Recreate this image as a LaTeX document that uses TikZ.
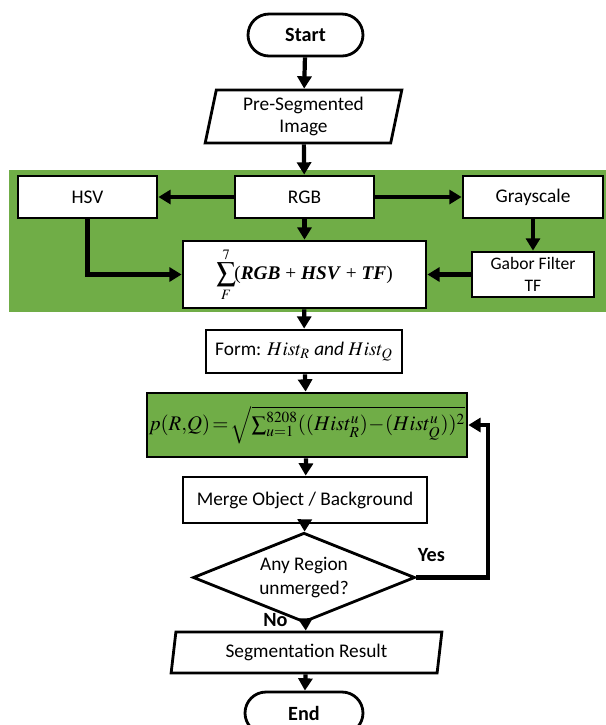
\documentclass[tikz,border=0pt]{standalone}
\usepackage{amsmath,amssymb}
\usepackage{mathptmx}
\usepackage{fontspec}
\setmainfont{Carlito}
\newfontfamily\formfont{Liberation Serif}
\usetikzlibrary{calc,shapes.geometric,arrows.meta}
\tikzset{>={Triangle[length=7pt,width=8pt]}}
\definecolor{panelgreen}{RGB}{112,173,71}

\begin{document}
\begin{tikzpicture}[x=0.02cm,y=-0.02cm,
    font=\fontsize{11}{13}\selectfont,
    box/.style={rectangle, draw=black, line width=1.6pt, fill=white, align=center, inner sep=1pt},
    term/.style={rectangle, rounded corners=0.42cm, draw=black, line width=1.6pt, fill=white, font=\fontsize{11.5}{14}\selectfont\bfseries},
    iobox/.style={trapezium, trapezium stretches=true, draw=black, line width=1.6pt, fill=white, align=center, inner sep=0pt},
    flow/.style={->, line width=2.4pt}]
    \useasboundingbox (0,0) rectangle (606,725);
			% green band behind the colour models
			\fill[panelgreen] (9,170) rectangle (606,312);

			\node[term, minimum width=2.3cm, minimum height=0.84cm] (start) at (305.5,35) {Start};
			\node[iobox, trapezium left angle=79, trapezium right angle=101, minimum width=3.94cm, minimum height=1.06cm] (preseg) at (303.5,116.5) {Pre-Segmented\\Image};
            \draw [flow] (start) -- (preseg);

			\node[box, minimum width=2.78cm, minimum height=0.84cm] (hsv) at (87.5,197) {HSV};
			\node[box, minimum width=2.78cm, minimum height=0.84cm] (rgb) at (304.5,197) {RGB};
			\node[box, minimum width=2.8cm, minimum height=0.84cm] (gray) at (533,197) {Grayscale};
            \draw [flow] (preseg) -- (rgb);
            \draw [flow] (rgb) -- (hsv);
            \draw [flow] (rgb) -- (gray);

			\node[box, minimum width=4.86cm, minimum height=1.34cm] (sum) at (304.5,274.5) {$\displaystyle\sum_{F}^{7}$\hspace{-1pt}{\formfont(\textbf{\textit{RGB}} + \textbf{\textit{HSV}} + \textbf{\textit{TF}})}};
			\node[box, minimum width=2.44cm, minimum height=0.9cm, font=\fontsize{10}{12.5}\selectfont] (gabor) at (533,274.5) {Gabor Filter\\TF};
            \draw [flow] (rgb) -- (sum);
            \draw [flow] (gray) -- (gabor);
            \draw [flow] (hsv.south) |- (sum.west);
            \draw [flow] (gabor) -- (sum);

			\node[box, minimum width=3.92cm, minimum height=0.86cm] (form) at (304,351.5) {Form: \textit{$Hist_R$ and $Hist_Q$}};
            \draw [flow] (sum) -- (form);

			\node[box, fill=panelgreen, minimum width=6.4cm, minimum height=1.28cm, inner sep=0pt, font=\fontsize{11.8}{14}\selectfont] (dist) at (307,425) {$p(R,\!Q)\!=\!\sqrt{\sum_{u=1}^{8208}((Hist_R^u)\!-\!(Hist_Q^u))^2}$};
            \draw [flow] (form) -- (dist);

			\node[box, minimum width=4.88cm, minimum height=0.92cm] (merge) at (305,500) {Merge Object / Background};
            \draw [flow] (dist) -- (merge);

			\node[diamond, draw=black, line width=1.6pt, fill=white, inner sep=0pt, minimum width=4.44cm, minimum height=1.3cm] (check) at (304,577.5) {\raisebox{-3pt}[0pt][0pt]{\begin{tabular}{@{}c@{}}Any Region\\[1pt]unmerged?\end{tabular}}};
            \draw [flow] (merge) -- (check);

			\node[iobox, trapezium left angle=80, trapezium right angle=100, minimum width=5.46cm, minimum height=0.82cm] (result) at (306.5,652.5) {Segmentation Result};
            \draw [flow] (check) -- (result);
			\node[font=\fontsize{11.5}{14}\selectfont\bfseries] at ($(result.north) + (-31,-11)$) {No};

            \draw [flow] (check.east) -- ++(72,0) |- (dist.east);
			\node[font=\fontsize{11.5}{14}\selectfont\bfseries] at ($(check.east) + (15,-22)$) {Yes};

			\node[term, minimum width=2.36cm, minimum height=0.84cm] (end) at (304,713) {End};
            \draw [flow] (result) -- (end);
		\end{tikzpicture}
\end{document}
